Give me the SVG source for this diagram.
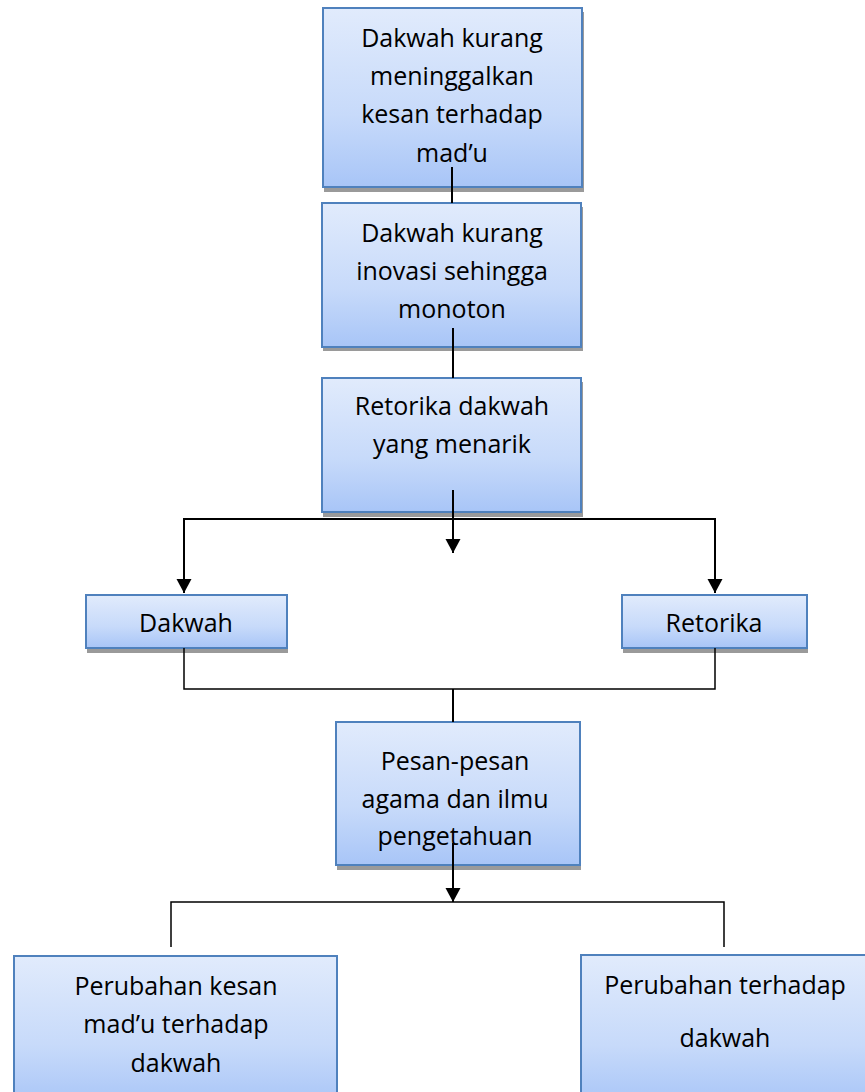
<svg xmlns="http://www.w3.org/2000/svg" width="865" height="1092" viewBox="0 0 865 1092">
<style>
.box{fill:url(#g);stroke:#4f81bd;stroke-width:2}
.sh{fill:#9a9a9a}
.t{font-family:"Open Sans","Noto Sans",sans-serif;font-size:25px;fill:#000;text-anchor:middle}
.c{fill:none;stroke:#000;stroke-width:2}
.c2{fill:none;stroke:#000;stroke-width:1.5}
</style>
<defs>
<linearGradient id="g" x1="0" y1="0" x2="0" y2="1">
<stop offset="0" stop-color="#e1ebfc"/>
<stop offset="0.6" stop-color="#c7dafa"/>
<stop offset="1" stop-color="#a8c5f7"/>
</linearGradient>
<marker id="ah" markerUnits="userSpaceOnUse" markerWidth="15" markerHeight="16" refX="14" refY="7.5" orient="auto" viewBox="0 0 15 16">
<path d="M0,0 L14,7.5 L0,15 z" fill="#000"/>
</marker>
</defs>
<g id="n1">
<rect class="sh" x="324" y="12" width="260" height="180"/>
<rect class="box" x="323" y="8" width="259" height="179"/>
<text class="t" x="452" y="47">Dakwah kurang</text>
<text class="t" x="452" y="85">meninggalkan</text>
<text class="t" x="452" y="123">kesan terhadap</text>
<text class="t" x="452" y="162">mad’u</text>
</g>
<g id="n2">
<rect class="sh" x="323" y="207" width="260" height="144"/>
<rect class="box" x="322" y="203" width="259" height="144"/>
<text class="t" x="452" y="242">Dakwah kurang</text>
<text class="t" x="452" y="280">inovasi sehingga</text>
<text class="t" x="452" y="318">monoton</text>
</g>
<g id="n3">
<rect class="sh" x="323" y="382" width="260" height="135"/>
<rect class="box" x="322" y="378" width="259" height="134"/>
<text class="t" x="452" y="415">Retorika dakwah</text>
<text class="t" x="452" y="453">yang menarik</text>
</g>
<g id="n4">
<rect class="sh" x="87" y="599" width="201" height="54"/>
<rect class="box" x="86" y="595" width="201" height="53"/>
<text class="t" x="186" y="632">Dakwah</text>
</g>
<g id="n5">
<rect class="sh" x="623" y="599" width="185" height="54"/>
<rect class="box" x="622" y="595" width="185" height="53"/>
<text class="t" x="714" y="632">Retorika</text>
</g>
<g id="n6">
<rect class="sh" x="337" y="726" width="244" height="144"/>
<rect class="box" x="336" y="722" width="244" height="143"/>
<text class="t" x="455" y="770">Pesan-pesan</text>
<text class="t" x="455" y="808">agama dan ilmu</text>
<text class="t" x="455" y="845">pengetahuan</text>
</g>
<g id="n7">
<rect class="box" x="14" y="956" width="323" height="150"/>
<text class="t" x="176" y="995">Perubahan kesan</text>
<text class="t" x="176" y="1033">mad’u terhadap</text>
<text class="t" x="176" y="1072">dakwah</text>
</g>
<g id="n8">
<rect class="box" x="581" y="955" width="300" height="150"/>
<text class="t" x="725" y="994">Perubahan terhadap</text>
<text class="t" x="725" y="1047">dakwah</text>
</g>
<g id="connectors">
<line class="c" x1="452" y1="167" x2="452" y2="203"/>
<line class="c" x1="453" y1="328" x2="453" y2="378"/>
<line class="c" x1="453" y1="490" x2="453" y2="553" marker-end="url(#ah)"/>
<path class="c" d="M453 519 H184 V593" marker-end="url(#ah)"/>
<path class="c" d="M453 519 H715 V593" marker-end="url(#ah)"/>
<path class="c2" d="M184 648 V689 H715 V648"/>
<line class="c" x1="453" y1="689" x2="453" y2="722"/>
<line class="c" x1="453" y1="843" x2="453" y2="902" marker-end="url(#ah)"/>
<path class="c2" d="M171 947 V902 H724 V947"/>
</g>
</svg>
